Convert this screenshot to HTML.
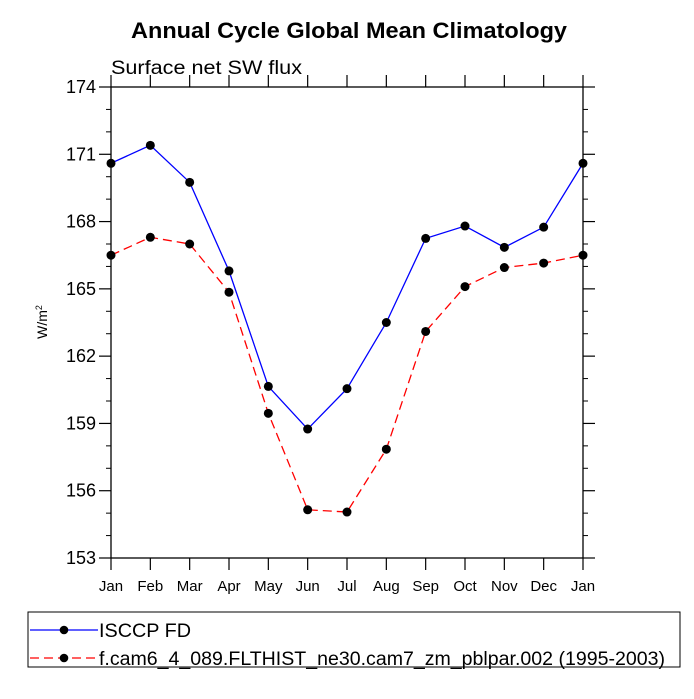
<!DOCTYPE html>
<html><head><meta charset="utf-8"><style>
body{margin:0;background:#fff}
svg text{font-family:"Liberation Sans",Helvetica,sans-serif;fill:#000}
</style></head><body>
<svg width="694" height="694" viewBox="0 0 694 694">
<text x="131" y="38" textLength="436" lengthAdjust="spacingAndGlyphs" font-size="22" font-weight="bold">Annual Cycle Global Mean Climatology</text>
<text x="111" y="74" textLength="191" lengthAdjust="spacingAndGlyphs" font-size="19">Surface net SW flux</text>
<text transform="translate(47,322) rotate(-90)" text-anchor="middle" font-size="14">W/m<tspan font-size="9" dy="-5">2</tspan></text>
<g id="axes"></g>
<g id="series"></g>
<rect x="28" y="612" width="652" height="55" fill="none" stroke="#000" stroke-width="1"/>
<g>
<line x1="30" y1="630" x2="98" y2="630" stroke="#0000ff" stroke-width="1.3"/>
<circle cx="64" cy="630" r="4.3" fill="#000"/>
<text x="99" y="637" textLength="92" lengthAdjust="spacingAndGlyphs" font-size="19">ISCCP FD</text>
</g>
<g>
<line x1="30" y1="658" x2="98" y2="658" stroke="#ff0000" stroke-width="1.3" stroke-dasharray="9,5"/>
<circle cx="64" cy="658" r="4.3" fill="#000"/>
<text x="99" y="665" textLength="566" lengthAdjust="spacingAndGlyphs" font-size="19">f.cam6_4_089.FLTHIST_ne30.cam7_zm_pblpar.002 (1995-2003)</text>
</g>
</svg>
<script>
const months=["Jan","Feb","Mar","Apr","May","Jun","Jul","Aug","Sep","Oct","Nov","Dec","Jan"];
const isccp=[170.6,171.4,169.75,165.8,160.65,158.75,160.55,163.5,167.25,167.8,166.85,167.75,170.6];
const model=[166.5,167.3,167.0,164.85,159.45,155.15,155.05,157.85,163.1,165.1,165.95,166.15,166.5];
const yTicks=[153,156,159,162,165,168,171,174];
const X0=111,X1=583,Y0=558,Y1=87,YMIN=153,YMAX=174;
const xs=i=>X0+(X1-X0)*i/(months.length-1);
const ys=v=>Y0-(v-YMIN)/(YMAX-YMIN)*(Y0-Y1);
const NS="http://www.w3.org/2000/svg";
function mk(tag,attrs,parent){const e=document.createElementNS(NS,tag);for(const k in attrs)e.setAttribute(k,attrs[k]);parent.appendChild(e);return e;}
const ax=document.getElementById('axes');
const frame=mk('rect',{x:X0,y:Y1,width:X1-X0,height:Y0-Y1,fill:'none',stroke:'#000','stroke-width':1.3},ax);


yTicks.forEach((v,i)=>{
  const y=ys(v);
  mk('line',{x1:X0-12,y1:y,x2:X0,y2:y,stroke:'#000','stroke-width':1.2},ax);
  mk('line',{x1:X1,y1:y,x2:X1+12,y2:y,stroke:'#000','stroke-width':1.2},ax);
  const t=mk('text',{x:X0-15,y:y+6,'text-anchor':'end','font-size':18},ax);
  t.textContent=v;
  
  
  if(i<yTicks.length-1){for(let k=1;k<3;k++){const yy=ys(v+k);
    mk('line',{x1:X0-5,y1:yy,x2:X0,y2:yy,stroke:'#000','stroke-width':1},ax);
    mk('line',{x1:X1,y1:yy,x2:X1+5,y2:yy,stroke:'#000','stroke-width':1},ax);}}
});
months.forEach((m,i)=>{
  const x=xs(i);
  mk('line',{x1:x,y1:Y0,x2:x,y2:Y0+12,stroke:'#000','stroke-width':1.2},ax);
  mk('line',{x1:x,y1:Y1-12,x2:x,y2:Y1,stroke:'#000','stroke-width':1.2},ax);
  const t=mk('text',{x:x,y:Y0+33,'text-anchor':'middle','font-size':15},ax);
  t.textContent=m;
  
  
});
const sg=document.getElementById('series');
function series(vals,color,dash,name){
  const g=mk('g',{},sg);
  
  
  const p=mk('polyline',{points:vals.map((v,i)=>xs(i)+','+ys(v)).join(' '),fill:'none',stroke:color,'stroke-width':1.3},g);
  if(dash)p.setAttribute('stroke-dasharray',dash);
  vals.forEach((v,i)=>{const c=mk('circle',{cx:xs(i),cy:ys(v),r:4.5,fill:'#000'},g);
    
    });
}
series(isccp,'#0000ff',null,'series-isccp');
series(model,'#ff0000','9,5','series-model');
</script>
</body></html>
